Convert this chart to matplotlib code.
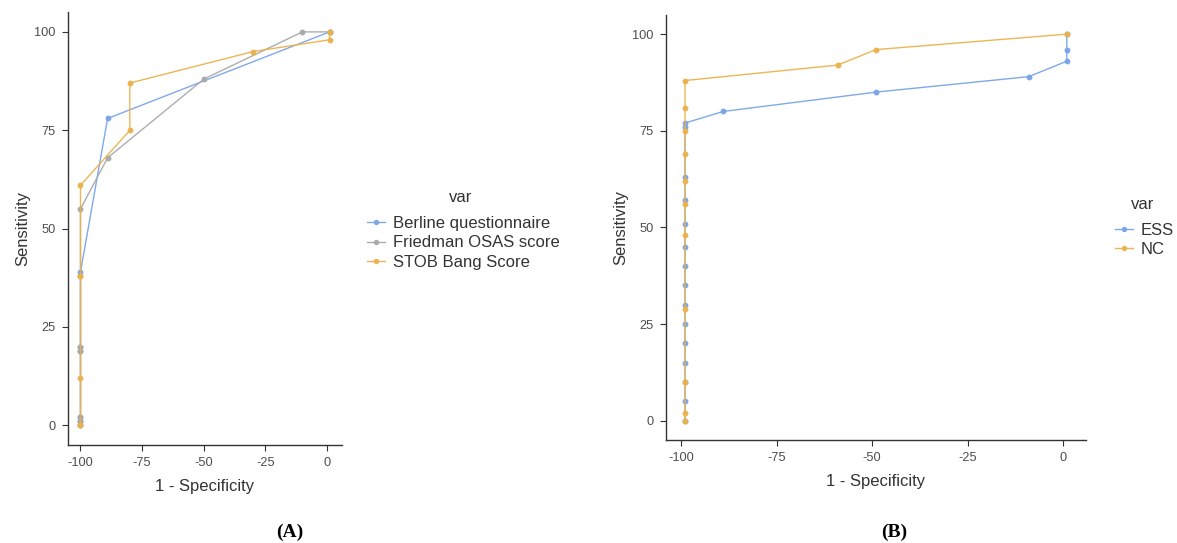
import matplotlib.pyplot as plt

plt.rcParams['font.family'] = ['Liberation Sans', 'DejaVu Sans']
plt.rcParams['axes.unicode_minus'] = False

# Panel A
berline_x = [-100, -100, -100, -100, -100, -100, -89, 1]
berline_y = [0, 1, 2, 19, 20, 39, 78, 100]
friedman_x = [-100, -100, -100, -100, -100, -100, -100, -89, -50, -10, 1]
friedman_y = [0, 1, 2, 19, 20, 38, 55, 68, 88, 100, 100]
stob_x = [-100, -100, -100, -100, -80, -80, -30, 1, 1]
stob_y = [0, 12, 38, 61, 75, 87, 95, 98, 100]

# Panel B
ess_x = [-99] * 15 + [-89, -49, -9, 1, 1, 1]
ess_y = [0, 5, 10, 15, 20, 25, 30, 35, 40, 45, 51, 57, 63, 76, 77, 80, 85, 89, 93, 96, 100]
nc_x = [-99] * 11 + [-59, -49, 1]
nc_y = [0, 2, 10, 29, 48, 56, 62, 69, 75, 81, 88, 92, 96, 100]

blue = '#79a5e8'
grey = '#a9a9a9'
orange = '#ebb24c'


def style_axes(ax, xmin, xmax):
    for s in ['top', 'right']:
        ax.spines[s].set_visible(False)
    for s in ['left', 'bottom']:
        ax.spines[s].set_color('#333333')
        ax.spines[s].set_linewidth(1.0)
    pad = (xmax - xmin) * 0.05
    ax.set_xlim(xmin - pad, xmax + pad)
    ax.set_ylim(-5, 105)
    ax.set_xticks([-100, -75, -50, -25, 0])
    ax.set_yticks([0, 25, 50, 75, 100])
    ax.tick_params(length=4, color='#333333', labelsize=9.2, labelcolor='#4d4d4d', pad=5)
    ax.set_xlabel('1 - Specificity', fontsize=12, color='#333333', labelpad=7)
    ax.set_ylabel('Sensitivity', fontsize=12, color='#333333', labelpad=3)


fig = plt.figure(figsize=(11.77, 5.43), dpi=100)
ax1 = fig.add_axes([0.0578, 0.1805, 0.2328, 0.797])
ax2 = fig.add_axes([0.5658, 0.1897, 0.3568, 0.783])

kw = dict(marker='o', markersize=3.2, linewidth=1.0, alpha=0.95)
h1 = ax1.plot(berline_x, berline_y, color=blue, label='Berline questionnaire', **kw)[0]
h2 = ax1.plot(friedman_x, friedman_y, color=grey, label='Friedman OSAS score', **kw)[0]
h3 = ax1.plot(stob_x, stob_y, color=orange, label='STOB Bang Score', **kw)[0]
style_axes(ax1, -100, 1)

h4 = ax2.plot(ess_x, ess_y, color=blue, label='ESS', **kw)[0]
h5 = ax2.plot(nc_x, nc_y, color=orange, label='NC', **kw)[0]
style_axes(ax2, -99, 1)

leg_kw = dict(frameon=False, fontsize=12, handlelength=1.1, handletextpad=0.45,
              labelspacing=0.25, borderpad=0, borderaxespad=0, loc='center left',
              markerscale=0.9)
l1 = fig.legend(handles=[h1, h2, h3], bbox_to_anchor=(0.3118, 0.5525), **leg_kw)
l2 = fig.legend(handles=[h4, h5], bbox_to_anchor=(0.947, 0.558), **leg_kw)
for lg in (l1, l2):
    for t in lg.get_texts():
        t.set_color('#333333')
fig.text(0.3917, 0.6354, 'var', fontsize=12, color='#333333', ha='center', va='center')
fig.text(0.971, 0.6225, 'var', fontsize=12, color='#333333', ha='center', va='center')

fig.text(0.246, 0.020, '(A)', fontsize=14, fontweight='bold',
         family='Liberation Serif', ha='center', va='center')
fig.text(0.760, 0.020, '(B)', fontsize=14, fontweight='bold',
         family='Liberation Serif', ha='center', va='center')

fig.savefig('out.png', dpi=100)
